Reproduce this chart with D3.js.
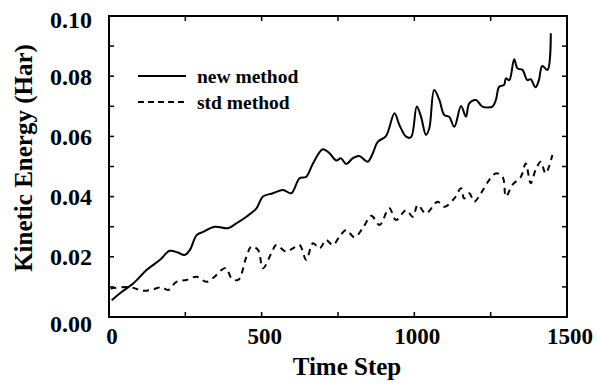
<!DOCTYPE html>
<html>
<head>
<meta charset="utf-8">
<script src="https://cdn.jsdelivr.net/npm/d3@7"></script>
<style>
  body { margin: 0; background: #fff; }
  text { font-family: "Liberation Serif", "DejaVu Serif", serif; font-weight: bold; fill: #000; }
</style>
</head>
<body>
<div id="chart"></div>
<script>
// values
const newT = [9, 36, 80, 123, 167, 199, 226, 248, 265, 287, 308, 346, 390, 417, 450, 483, 504,
  537, 570, 597, 624, 646, 668, 700, 722, 744, 760, 777, 798, 820, 847, 864, 880, 907, 935, 951,
  973, 989, 1008, 1022, 1038, 1049, 1065, 1082, 1098, 1114, 1131, 1153, 1169, 1180, 1202, 1223,
  1256, 1267, 1278, 1294, 1300, 1311, 1327, 1338, 1354, 1370, 1381, 1397, 1408, 1419, 1436, 1447];
const newKE = [0.0056, 0.0079, 0.0112, 0.0156, 0.019, 0.022, 0.0214, 0.0206, 0.0223, 0.0272,
  0.0283, 0.030, 0.0295, 0.0311, 0.0333, 0.0361, 0.040, 0.0411, 0.0422, 0.0411, 0.0461, 0.0466,
  0.051, 0.0557, 0.0544, 0.052, 0.0527, 0.0508, 0.0527, 0.0535, 0.0516, 0.0544, 0.0582, 0.0601,
  0.0677, 0.0638, 0.0599, 0.0597, 0.0699, 0.0665, 0.0605, 0.0627, 0.0754, 0.0721, 0.0671, 0.0665,
  0.0632, 0.0701, 0.0665, 0.071, 0.0721, 0.0699, 0.0699, 0.0721, 0.0765, 0.0771, 0.0793, 0.0787,
  0.0856, 0.0826, 0.0821, 0.0787, 0.079, 0.0763, 0.0787, 0.0834, 0.0821, 0.0943];

const stdT = [5, 69, 112, 145, 172, 194, 221, 254, 287, 319, 346, 368, 384, 401, 423, 450, 466,
  488, 504, 532, 548, 580, 602, 624, 646, 668, 690, 711, 733, 755, 777, 804, 831, 859, 886, 918,
  940, 973, 995, 1011, 1038, 1076, 1098, 1131, 1153, 1163, 1180, 1196, 1218, 1245, 1267, 1289,
  1300, 1321, 1349, 1365, 1381, 1397, 1414, 1430, 1452];
const stdKE = [0.0095, 0.0099, 0.0087, 0.0092, 0.0099, 0.009, 0.0117, 0.0123, 0.0134, 0.0117,
  0.0134, 0.0156, 0.0162, 0.0129, 0.0123, 0.020, 0.0234, 0.0223, 0.0162, 0.0212, 0.0239, 0.0217,
  0.0228, 0.0239, 0.019, 0.0245, 0.0228, 0.0256, 0.0239, 0.0267, 0.0289, 0.0265, 0.0295, 0.0336,
  0.0306, 0.0361, 0.0322, 0.0355, 0.0333, 0.0372, 0.0344, 0.0383, 0.0366, 0.0394, 0.0428, 0.0394,
  0.0411, 0.0383, 0.0411, 0.0455, 0.0477, 0.0466, 0.040, 0.0439, 0.0466, 0.051, 0.0444, 0.0488,
  0.0516, 0.0477, 0.0538];

const xTicks = [0, 500, 1000, 1500];
const yTicks = [0, 0.02, 0.04, 0.06, 0.08, 0.10];
const seriesNames = ["new method", "std method"];

const width = 597, height = 387;
const margin = {left: 109, right: 30, top: 16, bottom: 70};

const svg = d3.select("#chart").append("svg")
  .attr("width", width)
  .attr("height", height);

const x = d3.scaleLinear().domain([0, 1500]).range([margin.left, width - margin.right]);
const y = d3.scaleLinear().domain([0, 0.10]).range([height - margin.bottom, margin.top]);

// frame
svg.append("rect")
  .attr("x", x(0)).attr("y", y(0.10))
  .attr("width", x(1500) - x(0)).attr("height", y(0) - y(0.10))
  .attr("fill", "none").attr("stroke", "#000").attr("stroke-width", 2);

// inward ticks on all four sides
const tickG = svg.append("g").attr("stroke", "#000").attr("stroke-width", 1.5);
d3.range(0, 1501, 250).forEach(t => {
  tickG.append("line").attr("x1", x(t)).attr("x2", x(t)).attr("y1", y(0)).attr("y2", y(0) - 5);
  tickG.append("line").attr("x1", x(t)).attr("x2", x(t)).attr("y1", y(0.1)).attr("y2", y(0.1) + 5);
});
d3.range(0, 0.1001, 0.01).forEach(v => {
  tickG.append("line").attr("x1", x(0)).attr("x2", x(0) + 5).attr("y1", y(v)).attr("y2", y(v));
  tickG.append("line").attr("x1", x(1500)).attr("x2", x(1500) - 5).attr("y1", y(v)).attr("y2", y(v));
});

// tick labels (end labels sit a bit low in the scan)
svg.append("g").selectAll("text").data(yTicks).join("text")
  .attr("x", 92).attr("y", d => y(d) + (d === 0 ? 7 : d > 0.09 ? 4 : 0))
  .attr("dy", "0.35em")
  .attr("text-anchor", "end")
  .attr("font-size", 24)
  .text(d => d3.format(".2f")(d));

svg.append("g").selectAll("text").data(xTicks).join("text")
  .attr("x", d => x(d) + 3).attr("y", 336)
  .attr("dy", "0.35em")
  .attr("text-anchor", "middle")
  .attr("font-size", 23)
  .text(d => d);

// axis titles
svg.append("text")
  .attr("x", 347).attr("y", 366)
  .attr("dy", "0.35em")
  .attr("text-anchor", "middle")
  .attr("font-size", 25)
  .text("Time Step");

svg.append("text")
  .attr("transform", "translate(23,158) rotate(-90)")
  .attr("dy", "0.35em")
  .attr("text-anchor", "middle")
  .attr("font-size", 25)
  .text("Kinetic Energy (Har)");

// lines
const line = d3.line()
  .x(d => x(d[0]))
  .y(d => y(d[1]))
  .curve(d3.curveCatmullRom);

svg.append("path")
  .datum(newT.map((t, i) => [t, newKE[i]]))
  .attr("d", line)
  .attr("fill", "none").attr("stroke", "#000").attr("stroke-width", 2);

svg.append("path")
  .datum(stdT.map((t, i) => [t, stdKE[i]]))
  .attr("d", line)
  .attr("fill", "none").attr("stroke", "#000").attr("stroke-width", 2)
  .attr("stroke-dasharray", "6,5");

// legend
const legend = svg.append("g");
seriesNames.forEach((name, i) => {
  const ly = 76 + i * 26;
  legend.append("line")
    .attr("x1", 138).attr("x2", 186).attr("y1", ly).attr("y2", ly)
    .attr("stroke", "#000").attr("stroke-width", 2)
    .attr("stroke-dasharray", i ? "6,4" : null);
  legend.append("text")
    .attr("x", 197).attr("y", ly)
    .attr("dy", "0.35em")
    .attr("font-size", 19.5)
    .text(name);
});
</script>
</body>
</html>
